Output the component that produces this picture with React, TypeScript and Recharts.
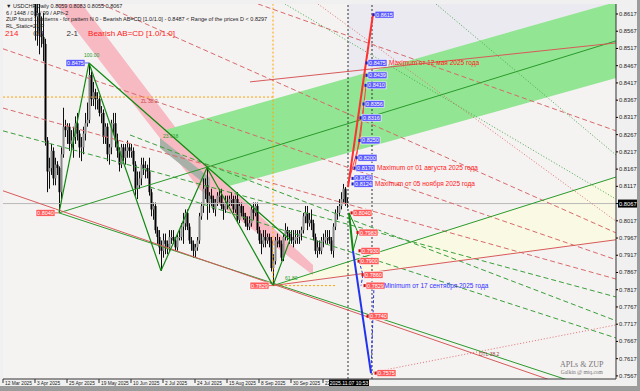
import React from "react";
import {
  ComposedChart,
  XAxis,
  YAxis,
  Bar,
  Area,
  Scatter,
  ReferenceLine,
  CartesianGrid,
} from "recharts";

// daily USDCHF candles [open, high, low, close], bar index 16 = 3 Apr 2025
const aprBars = [
  [0.883, 0.884, 0.854, 0.861], [0.861, 0.866, 0.8525, 0.862], [0.862, 0.868, 0.85, 0.856],
  [0.856, 0.861, 0.852, 0.855], [0.855, 0.862, 0.848, 0.853], [0.853, 0.8545, 0.8235, 0.825],
  [0.825, 0.826, 0.81, 0.816], [0.816, 0.82, 0.811, 0.817], [0.817, 0.824, 0.815, 0.822],
  [0.822, 0.823, 0.812, 0.814], [0.814, 0.82, 0.812, 0.818], [0.818, 0.819, 0.815, 0.817],
  [0.817, 0.8175, 0.804, 0.81], [0.81, 0.823, 0.808, 0.821], [0.821, 0.8345, 0.82, 0.829],
  [0.829, 0.831, 0.826, 0.828], [0.828, 0.83, 0.824, 0.829], [0.829, 0.83, 0.822, 0.824],
  [0.824, 0.828, 0.822, 0.825], [0.825, 0.829, 0.82, 0.826],
];
const mayBars = [
  [0.826, 0.832, 0.824, 0.83], [0.83, 0.833, 0.825, 0.827], [0.827, 0.828, 0.82, 0.823],
  [0.823, 0.826, 0.819, 0.823], [0.823, 0.829, 0.821, 0.827], [0.827, 0.833, 0.825, 0.83],
  [0.83, 0.836, 0.829, 0.831], [0.831, 0.8475, 0.83, 0.844], [0.844, 0.845, 0.835, 0.837],
  [0.837, 0.842, 0.835, 0.839], [0.839, 0.84, 0.834, 0.837], [0.837, 0.839, 0.834, 0.837],
  [0.837, 0.838, 0.832, 0.833], [0.833, 0.835, 0.83, 0.833], [0.833, 0.834, 0.824, 0.826],
  [0.826, 0.83, 0.824, 0.829], [0.829, 0.83, 0.819, 0.821], [0.821, 0.824, 0.818, 0.823],
  [0.823, 0.831, 0.821, 0.83], [0.83, 0.833, 0.827, 0.83], [0.83, 0.833, 0.823, 0.825],
  [0.825, 0.827, 0.82, 0.822],
];
const junBars = [
  [0.822, 0.823, 0.816, 0.818], [0.818, 0.824, 0.817, 0.823], [0.823, 0.824, 0.819, 0.82],
  [0.82, 0.824, 0.818, 0.822], [0.822, 0.825, 0.82, 0.823], [0.823, 0.824, 0.82, 0.822],
  [0.822, 0.824, 0.82, 0.822], [0.822, 0.823, 0.816, 0.818], [0.818, 0.819, 0.809, 0.811],
  [0.811, 0.816, 0.808, 0.812], [0.812, 0.816, 0.811, 0.814], [0.814, 0.82, 0.812, 0.818],
  [0.818, 0.82, 0.815, 0.817], [0.817, 0.819, 0.814, 0.817], [0.817, 0.818, 0.814, 0.816],
  [0.816, 0.82, 0.809, 0.81], [0.81, 0.811, 0.803, 0.805], [0.805, 0.807, 0.802, 0.806],
  [0.806, 0.807, 0.798, 0.799], [0.799, 0.8, 0.795, 0.797], [0.797, 0.799, 0.792, 0.794],
];
const julBars = [
  [0.794, 0.796, 0.7872, 0.793], [0.793, 0.798, 0.791, 0.796], [0.796, 0.798, 0.792, 0.795],
  [0.795, 0.796, 0.792, 0.794], [0.794, 0.799, 0.793, 0.797], [0.797, 0.799, 0.795, 0.797],
  [0.797, 0.799, 0.795, 0.796], [0.796, 0.797, 0.793, 0.794], [0.794, 0.798, 0.793, 0.797],
  [0.797, 0.799, 0.796, 0.797], [0.797, 0.801, 0.796, 0.8], [0.8, 0.804, 0.795, 0.801],
  [0.801, 0.805, 0.799, 0.804], [0.804, 0.805, 0.799, 0.8], [0.8, 0.801, 0.795, 0.796],
  [0.796, 0.797, 0.793, 0.795], [0.795, 0.796, 0.791, 0.793], [0.793, 0.795, 0.791, 0.794],
  [0.794, 0.797, 0.793, 0.796], [0.796, 0.804, 0.795, 0.803], [0.803, 0.807, 0.802, 0.806],
  [0.806, 0.814, 0.804, 0.811], [0.811, 0.814, 0.808, 0.812],
];
const augBars = [
  [0.812, 0.8171, 0.802, 0.807], [0.807, 0.81, 0.804, 0.809], [0.809, 0.811, 0.806, 0.808],
  [0.808, 0.809, 0.804, 0.805], [0.805, 0.808, 0.803, 0.807], [0.807, 0.81, 0.806, 0.809],
  [0.809, 0.811, 0.807, 0.809], [0.809, 0.811, 0.805, 0.806], [0.806, 0.807, 0.802, 0.805],
  [0.805, 0.809, 0.804, 0.807], [0.807, 0.809, 0.805, 0.807], [0.807, 0.809, 0.806, 0.808],
  [0.808, 0.81, 0.806, 0.808], [0.808, 0.809, 0.804, 0.805], [0.805, 0.809, 0.804, 0.808],
  [0.808, 0.81, 0.801, 0.802], [0.802, 0.807, 0.801, 0.806], [0.806, 0.807, 0.803, 0.804],
  [0.804, 0.806, 0.802, 0.803], [0.803, 0.804, 0.8, 0.801], [0.801, 0.803, 0.799, 0.8],
];
const sepBars = [
  [0.8, 0.803, 0.799, 0.801], [0.801, 0.806, 0.8, 0.805], [0.805, 0.807, 0.802, 0.804],
  [0.804, 0.807, 0.803, 0.806], [0.806, 0.807, 0.798, 0.799], [0.799, 0.8, 0.795, 0.796],
  [0.796, 0.798, 0.792, 0.795], [0.795, 0.799, 0.794, 0.797], [0.797, 0.799, 0.794, 0.796],
  [0.796, 0.798, 0.795, 0.797], [0.797, 0.798, 0.794, 0.796], [0.796, 0.797, 0.787, 0.788],
  [0.788, 0.792, 0.7829, 0.79], [0.79, 0.797, 0.789, 0.796], [0.796, 0.798, 0.794, 0.796],
  [0.796, 0.797, 0.794, 0.795], [0.795, 0.796, 0.79, 0.791], [0.791, 0.798, 0.79, 0.797],
  [0.797, 0.801, 0.796, 0.799], [0.799, 0.8, 0.796, 0.798], [0.798, 0.799, 0.795, 0.797],
  [0.797, 0.799, 0.795, 0.796],
];
const octBars = [
  [0.796, 0.799, 0.794, 0.796], [0.796, 0.799, 0.795, 0.797], [0.797, 0.799, 0.795, 0.797],
  [0.797, 0.799, 0.795, 0.798], [0.798, 0.8, 0.796, 0.799], [0.799, 0.804, 0.798, 0.803],
  [0.803, 0.806, 0.801, 0.804], [0.804, 0.806, 0.799, 0.801], [0.801, 0.804, 0.8, 0.802],
  [0.802, 0.805, 0.799, 0.801], [0.801, 0.802, 0.796, 0.797], [0.797, 0.798, 0.792, 0.793],
  [0.793, 0.796, 0.791, 0.794], [0.794, 0.796, 0.792, 0.793], [0.793, 0.797, 0.792, 0.796],
  [0.796, 0.798, 0.794, 0.796], [0.796, 0.799, 0.795, 0.797], [0.797, 0.799, 0.795, 0.797],
  [0.797, 0.799, 0.795, 0.796], [0.796, 0.797, 0.792, 0.793], [0.793, 0.801, 0.791, 0.8],
  [0.8, 0.805, 0.799, 0.804], [0.804, 0.806, 0.802, 0.804],
];
const novBars = [
  [0.804, 0.808, 0.803, 0.806], [0.806, 0.81, 0.805, 0.808], [0.808, 0.8124, 0.807, 0.811],
  [0.811, 0.8115, 0.806, 0.807], [0.807, 0.8085, 0.8055, 0.8067],
];
const FIRST_BAR = 16;
const CURRENT_BAR = 172;
const CURRENT_PRICE = 0.8067;

const dateTicks = [0, 16, 32, 48, 64, 80, 96, 112, 128, 144, 160];
const dateLabels = [
  "12 Mar 2025", "3 Apr 2025", "25 Apr 2025", "19 May 2025", "10 Jun 2025", "2 Jul 2025",
  "24 Jul 2025", "15 Aug 2025", "8 Sep 2025", "30 Sep 2025", "22 Oct 2025",
];
const priceTicks = [
  0.7567, 0.7617, 0.7667, 0.7717, 0.7767, 0.7817, 0.7867, 0.7917, 0.7967, 0.8017, 0.8067,
  0.8117, 0.8167, 0.8217, 0.8267, 0.8317, 0.8367, 0.8417, 0.8467, 0.8517, 0.8567, 0.8617,
];

// ZUP zigzag and AB=CD legs [bar1, price1, bar2, price2]
const zigzag = [
  [28, 0.804, 43, 0.8475], [43, 0.8475, 79, 0.7872], [79, 0.7872, 102, 0.8171],
  [102, 0.8171, 135, 0.7829], [135, 0.7829, 143.5, 0.7962], [43, 0.8475, 143.5, 0.7962],
];
// thin trend / channel lines
const greenLines = [[28, 0.804, 306.5, 0.7509], [135, 0.7829, 306.5, 0.8144], [28, 0.804, 306.5, 0.8539]];
const redLines = [[0, 0.8104, 306.5, 0.7489], [135, 0.7829, 306.5, 0.7962], [123.5, 0.842, 306.5, 0.8533]];
const redDashed = [
  [0, 0.8516, 306.5, 0.7904], [49, 0.8646, 306.5, 0.7982], [127.5, 0.8646, 306.5, 0.8278],
  [0, 0.8344, 306.5, 0.7848],
];
const greenDashed = [[0, 0.8278, 306.5, 0.7796], [63.5, 0.8266, 306.5, 0.7727], [73.5, 0.8115, 306.5, 0.7677]];
const greenDotted = [[141, 0.8646, 306.5, 0.808], [216.5, 0.8646, 306.5, 0.8208]];
const redDotted = [[157.5, 0.8646, 306.5, 0.8016], [183.5, 0.7576, 306.5, 0.7715]];
const ladderGreen = [[175, 0.793, 177.5, 0.7983], [173, 0.804, 177.5, 0.7983]];
const ladderBlue = [[178, 0.79, 180, 0.786], [180, 0.786, 179, 0.7829], [184, 0.7575, 185.5, 0.7829]];
const ladderRed = [[172.5, 0.8124, 178.5, 0.825], [178.5, 0.825, 181.5, 0.841], [176, 0.817, 180.5, 0.8356]];

// channel bands: [bar, low, high]
const greenBand = [[81.5, 0.8281, 0.8281], [113, 0.8118, 0.8333], [306.5, 0.8431, 0.8652]];
const pinkBand = [[26.5, 0.8646, 0.8745], [39.5, 0.8548, 0.8646], [98.5, 0.8107, 0.8194], [155, 0.786, 0.7889]];
const grayBand = [[78.5, 0.8228, 0.8257], [103.5, 0.8112, 0.8141]];
const yellowZone = [[135, 0.7829, 0.7829], [306.5, 0.7962, 0.8144]];
const lavenderZone = [[172.5, 0.8429, 0.8652], [306.5, 0.8652, 0.8652]];

// pivot prices of the zigzag
const pivots = [
  { bar: 43, price: 0.8475, up: true },
  { bar: 28, price: 0.804, up: false },
  { bar: 135, price: 0.7829, up: false },
];

// projection ladder from ZUP
const upLevels = [0.8615, 0.8475, 0.8439, 0.841, 0.8356, 0.8316, 0.825, 0.82, 0.817, 0.814, 0.8124];
const upBars = [185.5, 182, 182, 181.5, 180.5, 179, 178.5, 177, 176, 175, 175];
const downLevels = [0.804, 0.7983, 0.793, 0.79, 0.786, 0.7829, 0.774, 0.7575];
const downBars = [174.5, 177.5, 178.5, 178, 180, 181, 182.5, 186.5];

const upNotes = [
  { bar: 193, price: 0.8475, text: "Maximum от 12 мая 2025 года" },
  { bar: 187, price: 0.817, text: "Maximum от 01 августа 2025 года" },
  { bar: 186, price: 0.8124, text: "Maximum от 05 ноября 2025 года" },
];
const downNotes = [{ bar: 190.5, price: 0.7829, text: "Minimum от 17 сентября 2025 года" }];
const levelTags = [
  { bar: 40.5, price: 0.8497, text: "100.00", color: "#2a9a2a" },
  { bar: 69, price: 0.8365, text: "ZL 38.2", color: "#c84848" },
  { bar: 80, price: 0.8262, text: "23.618", color: "#2a9a2a" },
  { bar: 141, price: 0.7852, text: "61.80", color: "#2a9a2a" },
  { bar: 238, price: 0.7630, text: "DTL 38.2", color: "#a04040" },
];

const TOP = 0.8646;
const BOTTOM = 0.7558;
const X_MAX = 306.5;
const FONT = "Liberation Sans, Arial, sans-serif";

const candles = [...aprBars, ...mayBars, ...junBars, ...julBars, ...augBars, ...sepBars, ...octBars, ...novBars].map(
  (b, k) => ({ bar: FIRST_BAR + k, o: b[0], h: b[1], l: b[2], c: b[3] })
);

const Candle = (props: any) => {
  const { x, y, width, height, payload } = props;
  if (height == null || isNaN(y)) return null;
  const cx = Math.round(x + width / 2) + 0.5;
  const span = payload.h - payload.l || 1e-6;
  const yo = y + ((payload.h - payload.o) / span) * height;
  const yc = y + ((payload.h - payload.c) / span) * height;
  const top = Math.min(yo, yc);
  const bh = Math.max(Math.abs(yo - yc), 1);
  return (
    <g>
      <line x1={cx} x2={cx} y1={y} y2={y + height} stroke="#111" strokeWidth={1} />
      <rect x={cx - 1} y={top} width={2} height={bh} fill={payload.c >= payload.o ? "#888" : "#000"} />
    </g>
  );
};

const PriceTick = (props: any) => {
  const { x, y, payload } = props;
  const cur = Math.abs(payload.value - CURRENT_PRICE) < 1e-6;
  return (
    <g>
      <line x1={x - 3} x2={x - 1} y1={y} y2={y} stroke="#000" />
      {cur && <rect x={x - 1} y={y - 4} width={20} height={8} fill="#000" />}
      <text x={x} y={y + 2} fontSize={5.8} fontFamily={FONT} fill={cur ? "#fff" : "#222"}>
        {payload.value.toFixed(4)}
      </text>
    </g>
  );
};

const DateTick = (props: any) => {
  const { x, y, payload } = props;
  if (payload.value === CURRENT_BAR) {
    return (
      <g>
        <rect x={x - 18} y={y + 0.5} width={40} height={6.5} fill="#000" />
        <text x={x + 2} y={y + 5.8} fontSize={5} textAnchor="middle" fontFamily={FONT} fill="#fff">
          2025.11.07 10:53
        </text>
      </g>
    );
  }
  const k = dateTicks.indexOf(payload.value);
  return (
    <g>
      <line x1={x} x2={x} y1={y} y2={y + 4} stroke="#333" />
      <text x={x + 2} y={y + 5.8} fontSize={4.8} fontFamily={FONT} fill="#222">
        {dateLabels[k]}
      </text>
    </g>
  );
};

const PriceBox = (color: string, dot: string) => (props: any) => {
  const { cx, cy, payload } = props;
  return (
    <g>
      <rect x={cx - 1.5} y={cy - 1.5} width={3} height={3} fill={dot} />
      <rect x={cx + 1} y={cy - 3.5} width={19} height={7} fill={color} stroke="#fff" strokeWidth={0.6} />
      <text x={cx + 10.5} y={cy + 2} fontSize={5.5} textAnchor="middle" fontFamily={FONT} fill="#fff">
        {payload.price.toFixed(4)}
      </text>
    </g>
  );
};

const PivotBox = (props: any) => {
  const { cx, cy, payload } = props;
  const color = payload.up ? "#5a5aff" : "#ff5a5a";
  return (
    <g>
      <rect x={cx - 23} y={cy - 3.5} width={19} height={7} fill={color} stroke="#fff" strokeWidth={0.6} />
      <line x1={cx - 4} x2={cx} y1={cy} y2={cy} stroke={color} />
      <text x={cx - 13.5} y={cy + 2} fontSize={5.5} textAnchor="middle" fontFamily={FONT} fill="#fff">
        {payload.price.toFixed(4)}
      </text>
    </g>
  );
};

const Note = (color: string) => (props: any) => {
  const { cx, cy, payload } = props;
  return (
    <text x={cx} y={cy + 2} fontSize={6.5} fontFamily={FONT} fill={color}>
      {payload.text}
    </text>
  );
};

const Tag = (props: any) => {
  const { cx, cy, payload } = props;
  return (
    <text x={cx} y={cy + 2} fontSize={5} fontFamily={FONT} fill={payload.color}>
      {payload.text}
    </text>
  );
};

const bandData = (rows: number[][]) => rows.map((b) => ({ bar: b[0], band: [b[1], b[2]] }));
const seg = (s: number[]) => [
  { x: s[0], y: s[1] },
  { x: s[2], y: s[3] },
];

export default function App() {
  const upData = upLevels.map((p, k) => ({ bar: upBars[k], price: p }));
  const downData = downLevels.map((p, k) => ({ bar: downBars[k], price: p }));

  const zone = (rows: number[][], fill: string) => (
    <Area
      data={bandData(rows)}
      dataKey="band"
      type="linear"
      fill={fill}
      fillOpacity={1}
      stroke="none"
      isAnimationActive={false}
    />
  );
  const lines = (list: number[][], key: string, stroke: string, dash?: string, width = 1) =>
    list.map((s, k) => (
      <ReferenceLine
        key={key + k}
        segment={seg(s)}
        stroke={stroke}
        strokeWidth={width}
        strokeDasharray={dash}
        ifOverflow="hidden"
      />
    ));

  return (
    <div style={{ position: "absolute", left: 0, top: 0, width: 640, height: 391, background: "#9c9c9c" }}>
      <div style={{ position: "absolute", left: 0, top: 0, width: 637, height: 386, background: "#f0f0f0" }}>
        <ComposedChart
          width={637}
          height={386}
          data={candles}
          margin={{ top: 4, right: 0, bottom: 0, left: 3 }}
        >
          <CartesianGrid horizontal={false} vertical={false} fill="#f5f2f2" />
          <XAxis
            dataKey="bar"
            type="number"
            domain={[0, X_MAX]}
            allowDataOverflow
            ticks={[...dateTicks, CURRENT_BAR]}
            tick={<DateTick />}
            tickLine={false}
            tickSize={0}
            tickMargin={0}
            height={7}
            interval={0}
            axisLine={{ stroke: "#333" }}
          />
          <YAxis
            orientation="right"
            type="number"
            domain={[BOTTOM, TOP]}
            allowDataOverflow
            ticks={priceTicks}
            tick={<PriceTick />}
            tickLine={false}
            tickSize={0}
            tickMargin={3}
            width={21}
            interval={0}
            axisLine={{ stroke: "#333" }}
          />
          {zone(lavenderZone, "#eaeaf0")}
          {zone(yellowZone, "#fafae4")}
          {zone(pinkBand, "#f7b9c2")}
          {zone(greenBand, "#92e592")}
          {zone(grayBand, "#a8b0a8")}
          <ReferenceLine y={CURRENT_PRICE} stroke="#b8b8b8" strokeWidth={1} />
          <ReferenceLine x={172.5} stroke="#333" strokeDasharray="2 2" />
          <ReferenceLine x={184.5} stroke="#333" strokeDasharray="2 2" />
          {lines([[135, 0.7829, 135, TOP], [135, 0.7829, 166, 0.7829], [0, 0.8376, 135, 0.8376]], "o", "#ffa500", "2 2")}
          {lines(redDashed, "rd", "#d86a6a", "5 3")}
          {lines(greenDashed, "gd", "#3aa03a", "5 3")}
          {lines(greenDotted, "gt", "#4aaa4a", "1 2")}
          {lines(redDotted, "rt", "#e07070", "1 2")}
          {lines(greenLines, "g", "#2a9a2a")}
          {lines(redLines, "r", "#d85a5a")}
          {lines(zigzag, "z", "#118811", undefined, 1.2)}
          <Bar
            dataKey={(d: any) => [d.l, d.h]}
            shape={<Candle />}
            barSize={2}
            isAnimationActive={false}
          />
          {lines(ladderRed, "lr", "#ff4040")}
          {lines(ladderGreen, "lg", "#118811")}
          {lines(ladderBlue, "lb", "#2233ee", "3 2")}
          {lines([[172.5, 0.8115, 185, 0.8617]], "mr", "#ff3030", undefined, 2)}
          {lines([[173, 0.804, 175, 0.793]], "mg", "#118811", undefined, 2)}
          {lines([[175, 0.793, 184, 0.7575]], "mb", "#2233ee", undefined, 2)}
          <Scatter data={levelTags} dataKey="price" shape={Tag} isAnimationActive={false} />
          <Scatter data={pivots} dataKey="price" shape={PivotBox} isAnimationActive={false} />
          <Scatter data={upData} dataKey="price" shape={PriceBox("#5a5aff", "#2020c0")} isAnimationActive={false} />
          <Scatter data={downData} dataKey="price" shape={PriceBox("#ff5a5a", "#d01010")} isAnimationActive={false} />
          <Scatter data={upNotes} dataKey="price" shape={Note("#ff2020")} isAnimationActive={false} />
          <Scatter data={downNotes} dataKey="price" shape={Note("#3030ff")} isAnimationActive={false} />
        </ComposedChart>
        <div style={{ position: "absolute", left: 6, top: 3, font: `5.5px ${FONT}`, color: "#222", lineHeight: "6.5px", whiteSpace: "nowrap" }}>
          <div>▼ USDCHF,Daily 0.8059 0.8083 0.8055 0.8067</div>
          <div>6 / 1448 / 0.1 / 99 / APh-2</div>
          <div>ZUP found 1 patterns - for pattern N 0 - Bearish AB=CD [1.0/1.0] - 0.8487 &lt; Range of the prices D &lt; 0.8297</div>
          <div>RL_Static=ZUP</div>
        </div>
        <div style={{ position: "absolute", left: 5, top: 29, font: `8px ${FONT}`, color: "#ff2020", whiteSpace: "nowrap" }}>
          214
          <span style={{ color: "#333", marginLeft: 15 }}>0/1</span>
          <span style={{ color: "#333", marginLeft: 22 }}>2-1</span>
          <span style={{ marginLeft: 10 }}>Bearish AB=CD [1.0/1.0]</span>
        </div>
        <div style={{ position: "absolute", left: 560, top: 360, font: "8px Liberation Serif, serif", color: "#777", textAlign: "center" }}>
          <div>APLs &amp; ZUP</div>
          <div style={{ fontSize: 5.5 }}>Galkin @ mtq.com</div>
        </div>
      </div>
    </div>
  );
}
